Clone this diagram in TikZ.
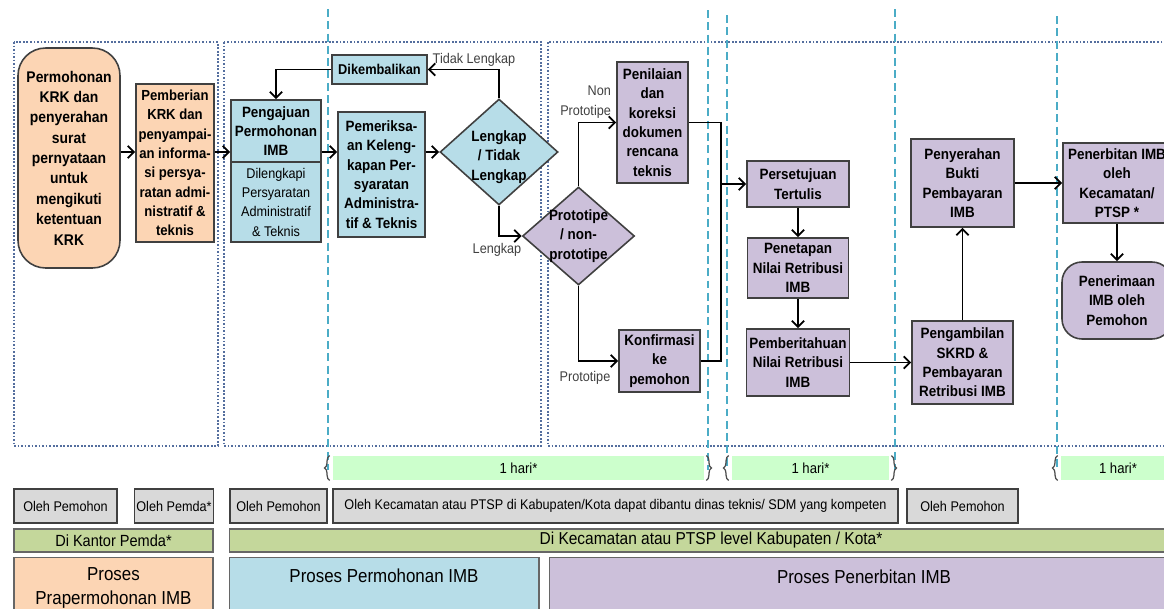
\documentclass[tikz,border=0pt]{standalone}
\usepackage{fontspec}
\setmainfont{Liberation Sans}[FakeStretch=0.9]
\usetikzlibrary{arrows.meta,shapes.geometric,decorations.pathreplacing}
\definecolor{pra}{RGB}{252,213,180}
\definecolor{mohon}{RGB}{183,221,232}
\definecolor{terbitc}{RGB}{204,192,218}
\definecolor{harigreen}{RGB}{204,255,204}
\definecolor{oleh}{RGB}{217,217,217}
\definecolor{lokasi}{RGB}{196,215,155}
\definecolor{dotc}{RGB}{84,110,158}
\definecolor{lanec}{RGB}{75,172,198}
\definecolor{edgec}{RGB}{64,64,64}

\begin{document}
\begin{tikzpicture}[x=0.02cm, y=-0.02cm, inner sep=1pt,
  stage/.style={draw=edgec, line width=0.9pt, align=center,
    font=\fontsize{8.5}{11}\selectfont\bfseries},
  decision/.style={diamond, draw=edgec, line width=0.9pt, inner sep=0pt},
  dtxt/.style={align=center, font=\fontsize{8.5}{11}\selectfont\bfseries},
  lbl/.style={font=\fontsize{8}{11.4}\selectfont, text=black!75, align=center},
  arr/.style={-{Straight Barb[length=3.5pt,width=7pt]}, line width=1pt},
  section/.style={draw=dotc, line width=1pt, densely dotted},
  lane/.style={draw=lanec, line width=0.7pt, dash pattern=on 4.5pt off 2.5pt},
  haribar/.style={fill=harigreen, minimum height=0.48cm, font=\fontsize{8.3}{9.6}\selectfont},
  curly/.style={draw=black!70, line width=0.7pt, decorate, decoration={brace, amplitude=3pt}},
  who/.style={draw=edgec, fill=oleh, line width=0.8pt, minimum height=0.68cm, font=\fontsize{8}{9.6}\selectfont},
  where/.style={draw=black!60, fill=lokasi, line width=0.6pt, minimum height=0.46cm, font=\fontsize{9.2}{11}\selectfont},
  band/.style={draw=black!60, line width=0.6pt, anchor=north, minimum height=1.6cm},
  bandtxt/.style={align=center, font=\fontsize{10.7}{13.7}\selectfont}]
  \useasboundingbox (0,0) rectangle (1164,609);
  \clip (0,0) rectangle (1164,609);
  % dotted section frames
  \draw[section] (14,42)  rectangle (218,446);
  \draw[section] (224,42) rectangle (541,446);
  \draw[section] (548,42) rectangle (1175,446);
  % dashed time lanes
  \draw[lane] (328,9)  -- (328,470);
  \draw[lane] (708,10) -- (708,470);
  \draw[lane] (727,15) -- (727,470);
  \draw[lane] (895,9)  -- (895,470);
  \draw[lane] (1057,16) -- (1057,470);
  % pre-application
  \node[stage, fill=pra, rounded corners=0.55cm, minimum width=2.04cm, minimum height=4.4cm,
    font=\fontsize{8.8}{11.6}\selectfont\bfseries] (krk) at (69,158)
    {Permohonan\\KRK dan\\penyerahan\\surat\\pernyataan\\untuk\\mengikuti\\ketentuan\\KRK};
  \node[stage, fill=pra, minimum width=1.56cm, minimum height=3.16cm,
    font=\fontsize{8.3}{11}\selectfont\bfseries] (pemberian) at (175,163)
    {Pemberian\\KRK dan\\penyampai-\\an informa-\\si persya-\\ratan admi-\\nistratif \&\\teknis};
  % application
  \node[stage, fill=mohon, minimum width=1.8cm, minimum height=1.24cm] (pengajuan) at (276,131)
    {Pengajuan\\Permohonan\\IMB};
  \node[stage, fill=mohon, minimum width=1.8cm, minimum height=1.6cm,
    font=\fontsize{8}{11}\selectfont] (lengkapi) at (276,202)
    {Dilengkapi\\Persyaratan\\Administratif\\\& Teknis};
  \node[stage, fill=mohon, minimum width=1.74cm, minimum height=2.5cm] (periksa) at (381.5,174.5)
    {Pemeriksa-\\an Keleng-\\kapan Per-\\syaratan\\Administra-\\tif \& Teknis};
  \node[stage, fill=mohon, minimum width=1.9cm, minimum height=0.58cm,
    font=\fontsize{8.1}{11}\selectfont\bfseries] (kembali) at (379.5,69.5)
    {Dikembalikan};
  \node[decision, fill=mohon, minimum width=2.36cm, minimum height=2.12cm,
    label={[dtxt, yshift=-0.1cm]center:{Lengkap\\/ Tidak\\Lengkap}}] (dlengkap) at (499,152) {};
  % issuance
  \node[decision, fill=terbitc, minimum width=2.24cm, minimum height=1.96cm,
    label={[dtxt]center:{Prototipe\\/ non-\\prototipe}}] (dproto) at (578.5,236) {};
  \node[stage, fill=terbitc, minimum width=1.42cm, minimum height=2.42cm] (penilaian) at (652.5,122.5)
    {Penilaian\\dan\\koreksi\\dokumen\\rencana\\teknis};
  \node[stage, fill=terbitc, minimum width=1.62cm, minimum height=1.24cm] (konfirmasi) at (659.5,361)
    {Konfirmasi\\ke\\pemohon};
  \node[stage, fill=terbitc, minimum width=2.04cm, minimum height=0.92cm] (setuju) at (798,184)
    {Persetujuan\\Tertulis};
  \node[stage, fill=terbitc, minimum width=2.02cm, minimum height=1.2cm] (penetapan) at (798,268)
    {Penetapan\\Nilai Retribusi\\IMB};
  \node[stage, fill=terbitc, minimum width=2.06cm, minimum height=1.34cm] (beritahu) at (798,362.5)
    {Pemberitahuan\\Nilai Retribusi\\IMB};
  \node[stage, fill=terbitc, minimum width=2.02cm, minimum height=1.66cm] (ambil) at (962.5,362.5)
    {Pengambilan\\SKRD \&\\Pembayaran\\Retribusi IMB};
  \node[stage, fill=terbitc, minimum width=2.06cm, minimum height=1.76cm] (serah) at (962.5,183)
    {Penyerahan\\Bukti\\Pembayaran\\IMB};
  \node[stage, fill=terbitc, minimum width=2.16cm, minimum height=1.6cm] (terbit) at (1117,183)
    {Penerbitan IMB\\oleh\\Kecamatan/\\PTSP *};
  \node[stage, fill=terbitc, rounded corners=0.4cm, minimum width=2.2cm, minimum height=1.54cm] (terima) at (1117,300.5)
    {Penerimaan\\IMB oleh\\Pemohon};
  % connectors
  \draw[arr] (krk.east |- dlengkap) -- (pemberian.west |- dlengkap);
  \draw[arr] (pemberian.east |- dlengkap) -- (pengajuan.west |- dlengkap);
  \draw[arr] (pengajuan.east |- dlengkap) -- (periksa.west |- dlengkap);
  \draw[arr] (periksa.east |- dlengkap) -- (dlengkap.west);
  \draw[arr] (dlengkap.north) |- (kembali.east);
  \draw[arr] (kembali.west) -| (pengajuan.north);
  \draw[arr] (dlengkap.south) |- (dproto.west);
  \draw[arr] (dproto.north) |- (penilaian.west);
  \draw[arr] (dproto.south) |- (konfirmasi.west);
  \path (setuju.west) ++(-25,0) coordinate (gabung);
  \draw[line width=1pt] (penilaian.east) -| (gabung);
  \draw[line width=1pt] (konfirmasi.east) -| (gabung);
  \draw[arr] (gabung) -- (setuju.west);
  \draw[arr] (setuju) -- (penetapan);
  \draw[arr] (penetapan) -- (beritahu);
  \draw[arr] (beritahu) -- (ambil);
  \draw[arr] (ambil) -- (serah);
  \draw[arr] (serah) -- (terbit);
  \draw[arr] (terbit) -- (terima);
  % branch labels
  \node[lbl] (tTidak) at (474,60) {Tidak Lengkap};
  \node[lbl] (tLengkap) at (497,250) {Lengkap};
  \node[lbl, align=right, anchor=east] (tNon) at (613,102) {Non\\Prototipe};
  \node[lbl] (tProto) at (585,378) {Prototipe};
  % durations
  \node[haribar, minimum width=7.42cm] (hari1) at (518.5,468) {1 hari*};
  \node[haribar, minimum width=3.14cm] (hari2) at (810.5,468) {1 hari*};
  \node[haribar, minimum width=2.28cm] (hari3) at (1118,468) {1 hari*};
  \draw[curly] ([xshift=-0.06cm]hari1.south west) -- ([xshift=-0.06cm]hari1.north west);
  \draw[curly] ([xshift=0.04cm]hari1.north east) -- ([xshift=0.04cm]hari1.south east);
  \draw[curly] ([xshift=-0.06cm]hari2.south west) -- ([xshift=-0.06cm]hari2.north west);
  \draw[curly] ([xshift=0.04cm]hari2.north east) -- ([xshift=0.04cm]hari2.south east);
  \draw[curly] ([xshift=-0.06cm]hari3.south west) -- ([xshift=-0.06cm]hari3.north west);
  % actors
  \node[who, minimum width=2.06cm] (oleh1) at (65.5,506) {Oleh Pemohon};
  \node[who, minimum width=1.56cm] (oleh2) at (174,506) {Oleh Pemda*};
  \node[who, minimum width=1.94cm] (oleh3) at (278.5,506) {Oleh Pemohon};
  \node[who, minimum width=11.3cm] (oleh4) at (615.5,506)
    {Oleh Kecamatan atau PTSP di Kabupaten/Kota dapat dibantu dinas teknis/ SDM yang kompeten};
  \node[who, minimum width=2.22cm] (oleh5) at (962.5,506) {Oleh Pemohon};
  % locations
  \node[where, minimum width=3.98cm] (kantor) at (113.5,540.5) {Di Kantor Pemda*};
  \node[where, minimum width=19.28cm, font=\fontsize{9.8}{11}\selectfont] (kecamatan) at (711,540.5)
    {Di Kecamatan atau PTSP level Kabupaten / Kota*};
  % process bands
  \node[band, fill=pra, minimum width=3.98cm] (bandPra) at (113.5,557) {};
  \node[bandtxt] (txtPra) at (113.5,588) {Proses\\Prapermohonan IMB};
  \node[band, fill=mohon, minimum width=6.2cm] (bandMohon) at (384,557) {};
  \node[bandtxt] (txtMohon) at (384,576) {Proses Permohonan IMB};
  \node[band, fill=terbitc, minimum width=12.6cm] (bandTerbit) at (864,557) {};
  \node[bandtxt] (txtTerbit) at (864,577) {Proses Penerbitan IMB};
\end{tikzpicture}
\end{document}
